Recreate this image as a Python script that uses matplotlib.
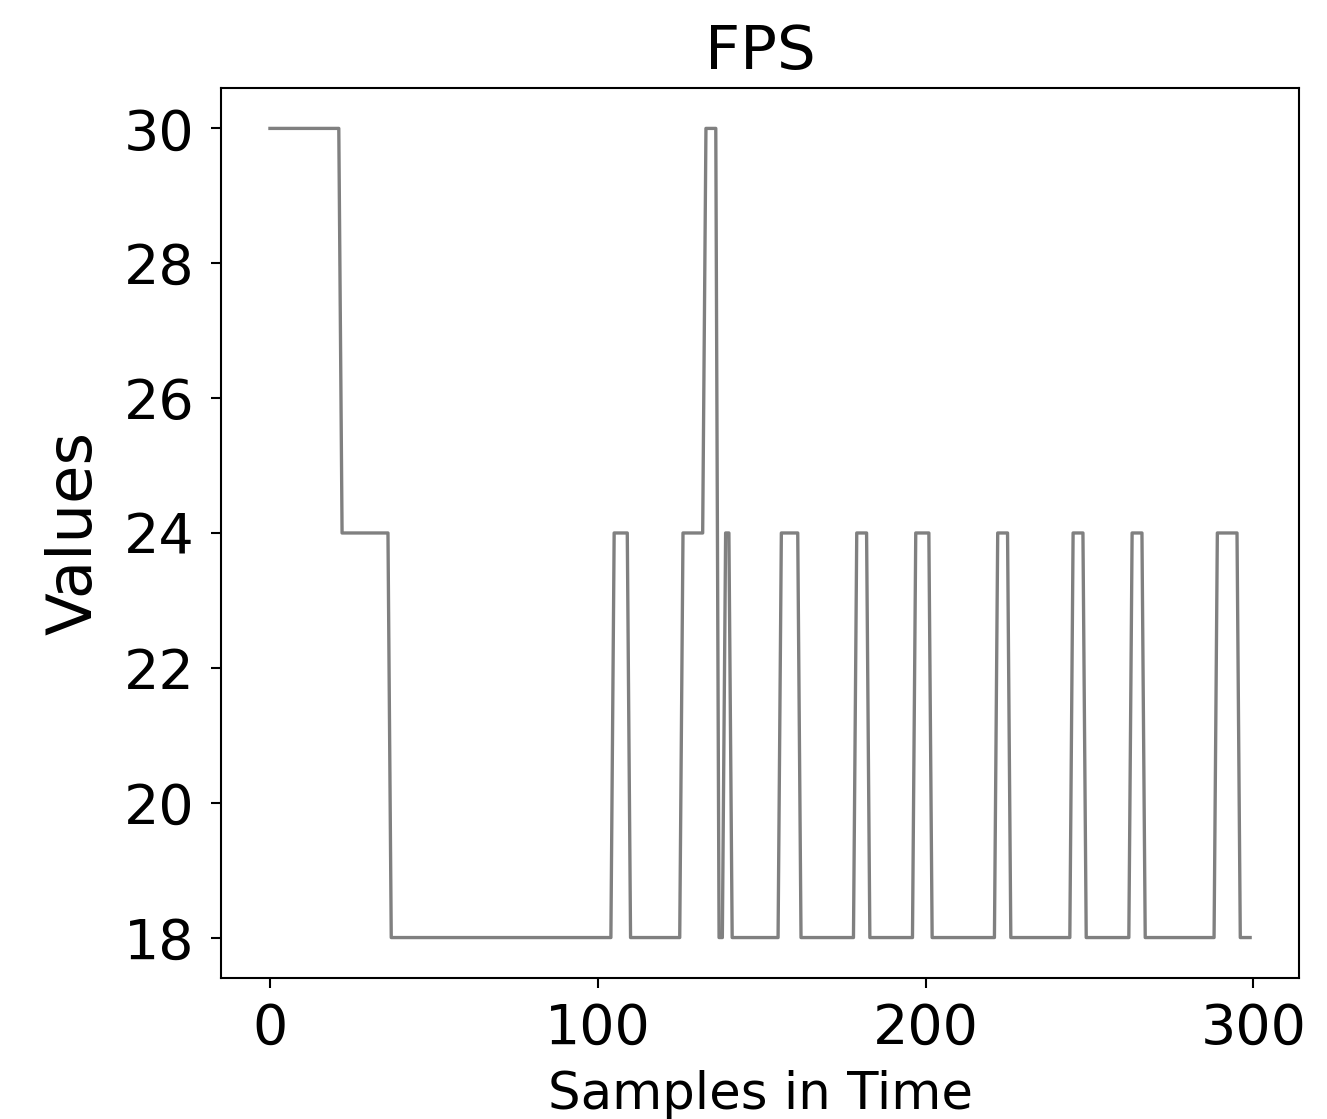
import numpy as np
import matplotlib
matplotlib.use("Agg")
from matplotlib import pyplot as plt

# FPS levels and how many samples each level lasts
fps_levels = [30, 24, 18, 24, 18, 24, 30, 18, 24, 18, 24, 18,
              24, 18, 24, 18, 24, 18, 24, 18, 24, 18, 24, 18]
run_lengths = [22, 15, 68, 5, 16, 7, 4, 2, 2, 15, 6, 17,
               4, 14, 5, 20, 4, 19, 4, 14, 4, 22, 7, 4]

fps = np.repeat(fps_levels, run_lengths)
samples = np.arange(len(fps))

x_ticks = [0, 100, 200, 300]
y_ticks = [18, 20, 22, 24, 26, 28, 30]

fig = plt.figure(figsize=(13.27, 11.19), dpi=100)
ax = fig.add_axes([0.1665, 0.126, 0.8125, 0.7954])

ax.plot(samples, fps, color="#808080", linewidth=2.4)

ax.set_xticks(x_ticks)
ax.set_yticks(y_ticks)
ax.tick_params(labelsize=40, width=1.5, length=7)
ax.tick_params(axis="y", pad=12)
ax.tick_params(axis="x", pad=10)
for s in ax.spines.values():
    s.set_linewidth(1.5)

ax.set_title("FPS", fontsize=44, pad=14)
ax.set_xlabel("Samples in Time", fontsize=37, labelpad=10)
ax.set_ylabel("Values", fontsize=45, labelpad=14)

fig.savefig("out.png", dpi=100)
